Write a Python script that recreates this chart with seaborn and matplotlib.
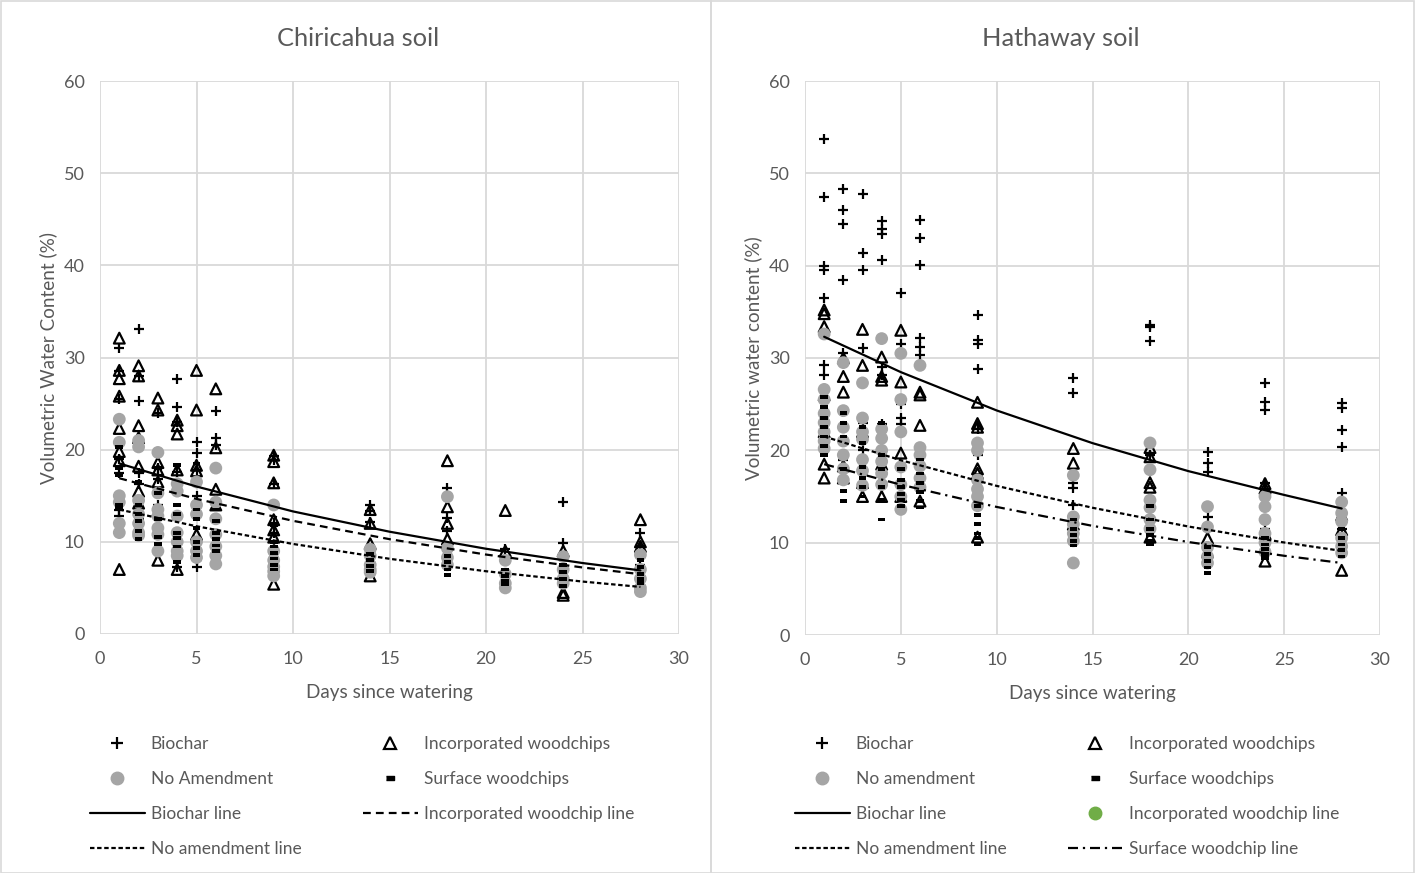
import numpy as np
import pandas as pd
import matplotlib
matplotlib.use("Agg")
import matplotlib.pyplot as plt
import seaborn as sns
from matplotlib.lines import Line2D
from matplotlib.patches import Rectangle

# ---------------- data ----------------
days = [1, 2, 3, 4, 5, 6, 9, 14, 18, 21, 24, 28]

# Chiricahua soil (values per day, in the order of `days`)
chir_biochar = [[31.0, 28.5, 25.5, 19.0, 17.5, 13.5, 12.8], [33.1, 28.0, 25.3, 17.5, 16.3, 12.5],
                [24.0, 18.0, 17.3, 16.8, 14.0], [27.7, 24.6, 23.0, 17.6, 15.8, 7.3],
                [20.8, 19.6, 17.8, 15.0, 8.0, 7.3], [24.2, 21.3, 20.5],
                [19.3, 18.9, 16.3, 12.0, 11.0, 9.3], [14.0, 13.3, 12.2], [15.8, 12.6, 11.2],
                [9.2], [14.3, 9.9], [11.0, 9.6, 7.5]]
chir_incorp = [[32.1, 28.6, 27.7, 25.8, 22.3, 19.8, 18.8, 7.0], [29.1, 28.0, 22.6, 21.3, 18.2, 15.5, 14.2],
               [25.6, 24.3, 18.6, 17.8, 16.5, 8.0], [23.2, 22.6, 21.7, 17.8, 7.0],
               [28.6, 24.3, 18.3, 17.7, 10.8], [26.6, 20.2, 15.7, 14.0],
               [19.4, 18.7, 16.4, 12.4, 11.3, 10.5, 5.4], [13.5, 12.0, 9.8, 6.3],
               [18.8, 13.8, 12.0, 10.3], [13.4, 9.0], [9.0, 4.5, 4.2], [12.4, 10.0, 9.5]]
chir_noamend = [[23.3, 20.8, 15.0, 14.3, 12.0, 11.0], [21.0, 20.3, 14.5, 13.0, 12.0, 11.0, 10.7],
                [19.7, 15.3, 13.5, 12.8, 11.5, 10.8, 9.0], [16.3, 15.5, 12.8, 11.0, 10.0, 9.0, 8.5],
                [16.5, 14.0, 13.0, 10.0, 9.0, 8.3], [18.0, 14.3, 12.5, 10.8, 9.5, 8.5, 7.6],
                [14.0, 9.0, 8.0, 7.3, 6.8, 6.3], [9.2, 8.5, 7.5, 7.0, 6.7], [14.9, 9.3, 8.3, 7.5],
                [8.0, 6.5, 5.5, 5.0], [8.4, 7.0, 6.0, 5.5], [8.6, 7.0, 6.0, 5.0, 4.6]]
chir_surface = [[20.3, 18.0, 17.2, 14.0, 13.7], [16.5, 14.0, 13.0, 12.3, 11.2, 10.3],
                [18.0, 15.3, 12.5, 10.5, 9.8], [18.3, 14.0, 13.0, 11.0, 10.4, 9.5, 7.8],
                [18.5, 13.5, 12.5, 11.5, 10.0, 9.3, 8.6], [13.5, 12.3, 11.0, 10.3, 9.6, 9.0],
                [11.8, 10.0, 9.5, 8.8, 8.2, 7.5, 7.0], [8.7, 8.0, 7.4, 6.8], [8.5, 7.8, 7.0, 6.4],
                [7.0, 6.3, 5.8, 5.4], [7.5, 6.7, 6.0, 5.2], [8.0, 7.3, 6.5, 6.0, 5.5]]

# Hathaway soil
hath_biochar = [[53.7, 47.4, 40.0, 39.5, 36.5, 29.2, 28.2, 25.5], [48.3, 46.0, 44.5, 38.5, 30.5, 24.2, 19.0],
                [47.8, 41.4, 39.5, 31.1, 23.0, 20.0], [44.8, 44.0, 43.4, 40.6, 29.0, 28.2, 22.8],
                [37.0, 31.5, 25.0, 23.5, 22.8], [45.0, 43.0, 40.1, 32.2, 31.2, 30.3],
                [34.7, 32.0, 31.5, 28.8, 22.3, 19.5], [27.8, 26.2, 16.5, 15.9, 14.1],
                [33.6, 33.4, 31.8, 19.5, 12.5], [19.8, 18.6, 17.7, 12.8, 11.4],
                [27.3, 25.2, 24.4, 16.5, 11.5], [25.1, 24.6, 22.2, 20.4, 15.4, 11.5]]
hath_incorp = [[35.2, 34.8, 33.4, 26.0, 22.0, 18.5, 17.0], [30.0, 28.0, 26.3, 18.3, 17.0],
               [33.1, 29.2, 22.0, 16.5, 15.0], [30.1, 28.0, 27.6, 18.5, 15.0],
               [33.0, 27.4, 19.7, 15.0], [26.3, 26.0, 22.7, 14.5],
               [25.2, 22.9, 22.5, 18.0, 17.5, 10.6], [20.2, 18.6, 12.0],
               [20.3, 19.3, 16.5, 16.0, 10.6], [10.5, 9.0], [16.4, 15.9, 11.0, 8.0], [13.0, 11.4, 7.0]]
hath_noamend = [[32.6, 26.6, 25.5, 24.0, 23.0, 22.0, 21.0, 20.2], [29.5, 24.3, 22.5, 21.0, 19.5, 18.0, 16.8],
                [27.3, 23.5, 22.0, 21.2, 19.0, 17.8, 16.2], [32.1, 22.3, 21.3, 20.0, 18.8, 17.5, 16.3],
                [30.5, 25.5, 22.0, 18.2, 16.3, 15.0, 13.6], [29.2, 20.3, 19.5, 18.3, 17.0, 16.0],
                [20.8, 20.0, 16.8, 15.8, 15.0, 14.0], [17.3, 12.8, 12.0, 11.0, 10.2, 7.8],
                [20.8, 17.9, 14.6, 13.8, 12.5, 11.5], [13.9, 11.7, 9.5, 8.5, 7.8],
                [15.0, 13.9, 12.5, 11.0, 10.0, 9.0], [14.4, 13.2, 12.3, 10.5, 9.6, 8.9]]
hath_surface = [[25.8, 24.7, 23.5, 22.5, 21.5, 20.5, 19.5], [24.0, 23.0, 21.5, 18.0, 15.6, 14.5],
                [22.5, 20.8, 18.2, 17.0, 16.0, 15.0], [23.0, 19.5, 18.0, 16.0, 14.6, 12.5],
                [18.0, 16.8, 16.0, 15.3, 14.6, 14.0], [19.0, 17.5, 16.5, 15.5, 14.5, 13.8],
                [14.0, 13.0, 12.0, 11.0, 10.5, 9.8], [12.5, 11.5, 10.8, 10.2, 9.7],
                [14.0, 12.5, 11.5, 10.8, 10.2, 9.8], [9.5, 8.8, 8.0, 7.3, 6.7],
                [10.5, 9.8, 9.3, 8.8, 8.3], [11.5, 10.5, 9.8, 9.2, 8.5]]

# trend lines
line_days = [1, 5, 10, 15, 20, 25, 28]
chir_biochar_line = [18.5, 16.0, 13.3, 11.1, 9.25, 7.7, 6.9]
chir_incorp_line = [16.9, 14.66, 12.28, 10.29, 8.62, 7.22, 6.49]
chir_noamend_line = [13.5, 11.69, 9.77, 8.16, 6.81, 5.69, 5.11]
hath_biochar_line = [32.3, 28.47, 24.32, 20.78, 17.75, 15.17, 13.7]
hath_noamend_line = [21.5, 18.93, 16.15, 13.78, 11.75, 10.02, 9.11]
hath_surface_line = [18.5, 16.28, 13.87, 11.82, 10.07, 8.58, 7.8]

x_ticks = [0, 5, 10, 15, 20, 25, 30]
y_ticks = [0, 10, 20, 30, 40, 50, 60]


def long_df(series):
    return pd.DataFrame([(d, v) for d, vals in zip(days, series) for v in vals],
                        columns=["day", "vwc"])


# ---------------- style ----------------
sns.set_theme(style="white")
plt.rcParams["font.family"] = ["Lato", "DejaVu Sans"]
TXT = "#595959"
GRID = "#d9d9d9"
GRAYDOT = "#a5a5a5"
W, H = 1415, 873
LABEL_FS = 13.6
TICK_FS = 13

fig = plt.figure(figsize=(W / 100, H / 100), dpi=100)

rect_marker = [(-1, -0.5), (1, -0.5), (1, 0.5), (-1, 0.5)]

sty_biochar = dict(marker="+", s=60, color="black", linewidth=1.6)
sty_incorp = dict(marker="^", s=60, facecolor="none", edgecolor="black", linewidth=1.6)
sty_noamend = dict(marker="o", s=85, color=GRAYDOT, edgecolor="none", linewidth=0)
sty_surface = dict(marker=rect_marker, s=30, color="black", edgecolor="none", linewidth=0)

ls_incorp = (0, (3.5, 2.3))
ls_noamend = (0, (2.0, 1.2))
ls_surface = (0, (4.5, 2.2, 1.0, 2.2))


def setup_axes(rect):
    ax = fig.add_axes(rect)
    ax.set_xlim(0, 30)
    ax.set_ylim(0, 60)
    ax.set_xticks(x_ticks)
    ax.set_yticks(y_ticks)
    ax.grid(True, color=GRID, linewidth=1.3)
    ax.set_axisbelow(True)
    for s in ax.spines.values():
        s.set_visible(False)
    ax.tick_params(axis="both", length=0, labelsize=TICK_FS, labelcolor=TXT)
    ax.tick_params(axis="y", pad=11)
    ax.tick_params(axis="x", pad=12.5)
    return ax


def finish_axes(ax, ylabel):
    ax.set_xlabel("Days since watering", fontsize=LABEL_FS, color=TXT, labelpad=12)
    ax.set_ylabel(ylabel, fontsize=LABEL_FS, color=TXT, labelpad=5)


# ---------------- left panel ----------------
axL = setup_axes([100 / W, 1 - 634 / H, 579 / W, 553 / H])
sns.scatterplot(data=long_df(chir_biochar), x="day", y="vwc", ax=axL, **sty_biochar)
sns.scatterplot(data=long_df(chir_incorp), x="day", y="vwc", ax=axL, **sty_incorp)
sns.scatterplot(data=long_df(chir_noamend), x="day", y="vwc", ax=axL, **sty_noamend)
sns.scatterplot(data=long_df(chir_surface), x="day", y="vwc", ax=axL, **sty_surface)
sns.lineplot(x=line_days, y=chir_biochar_line, ax=axL, color="black", linewidth=1.6)
sns.lineplot(x=line_days, y=chir_incorp_line, ax=axL, color="black", linewidth=1.6, linestyle=ls_incorp)
sns.lineplot(x=line_days, y=chir_noamend_line, ax=axL, color="black", linewidth=1.6, linestyle=ls_noamend)
finish_axes(axL, "Volumetric Water Content (%)")

# ---------------- right panel ----------------
axR = setup_axes([805 / W, 1 - 635 / H, 575 / W, 554 / H])
sns.scatterplot(data=long_df(hath_biochar), x="day", y="vwc", ax=axR, **sty_biochar)
sns.scatterplot(data=long_df(hath_incorp), x="day", y="vwc", ax=axR, **sty_incorp)
sns.scatterplot(data=long_df(hath_noamend), x="day", y="vwc", ax=axR, **sty_noamend)
sns.scatterplot(data=long_df(hath_surface), x="day", y="vwc", ax=axR, **sty_surface)
sns.lineplot(x=line_days, y=hath_biochar_line, ax=axR, color="black", linewidth=1.6)
sns.lineplot(x=line_days, y=hath_noamend_line, ax=axR, color="black", linewidth=1.6, linestyle=ls_noamend)
sns.lineplot(x=line_days, y=hath_surface_line, ax=axR, color="black", linewidth=1.6, linestyle=ls_surface)
finish_axes(axR, "Volumetric water content (%)")

# titles
fig.text(358 / W, 1 - 38 / H, "Chiricahua soil", ha="center", va="center", fontsize=18.3, color=TXT)
fig.text(1061 / W, 1 - 38 / H, "Hathaway soil", ha="center", va="center", fontsize=18.3, color=TXT)

# panel borders
fig.add_artist(Rectangle((0.5 / W, 0.5 / H), 710.5 / W, (H - 1.5) / H, transform=fig.transFigure,
                         fill=False, edgecolor=GRID, linewidth=1.2))
fig.add_artist(Rectangle((711 / W, 0.5 / H), (W - 712) / W, (H - 1.5) / H, transform=fig.transFigure,
                         fill=False, edgecolor=GRID, linewidth=1.2))


# ---------------- legends ----------------
def mk(marker, **kw):
    return Line2D([], [], linestyle="none", marker=marker, **kw)


h_biochar = mk("+", color="black", markersize=8, markeredgewidth=1.6)
h_incorp = mk("^", markerfacecolor="none", markeredgecolor="black", markersize=8, markeredgewidth=1.6)
h_noamend = mk("o", color=GRAYDOT, markersize=9)
h_surface = mk(rect_marker, color="black", markersize=6)
h_green = mk("o", color="#70ad47", markersize=9)
h_bl = Line2D([], [], color="black", linewidth=1.6)
h_il = Line2D([], [], color="black", linewidth=1.6, linestyle=ls_incorp)
h_nl = Line2D([], [], color="black", linewidth=1.6, linestyle=ls_noamend)
h_sl = Line2D([], [], color="black", linewidth=1.6, linestyle=ls_surface)

leg_kw = dict(loc="upper left", ncol=2, frameon=False, fontsize=12.5, labelcolor=TXT,
              handlelength=3.15, handletextpad=0.35, labelspacing=1.1, columnspacing=3.55,
              borderpad=0, borderaxespad=0)

fig.legend([h_biochar, h_noamend, h_bl, h_nl, h_incorp, h_surface, h_il],
           ["Biochar", "No Amendment", "Biochar line", "No amendment line",
            "Incorporated woodchips", "Surface woodchips", "Incorporated woodchip line"],
           bbox_to_anchor=(90 / W, 1 - 736 / H), **leg_kw)

fig.legend([h_biochar, h_noamend, h_bl, h_nl, h_incorp, h_surface, h_green, h_sl],
           ["Biochar", "No amendment", "Biochar line", "No amendment line",
            "Incorporated woodchips", "Surface woodchips", "Incorporated woodchip line",
            "Surface woodchip line"],
           bbox_to_anchor=(795 / W, 1 - 736 / H), **leg_kw)

fig.savefig("out.png", dpi=100)
